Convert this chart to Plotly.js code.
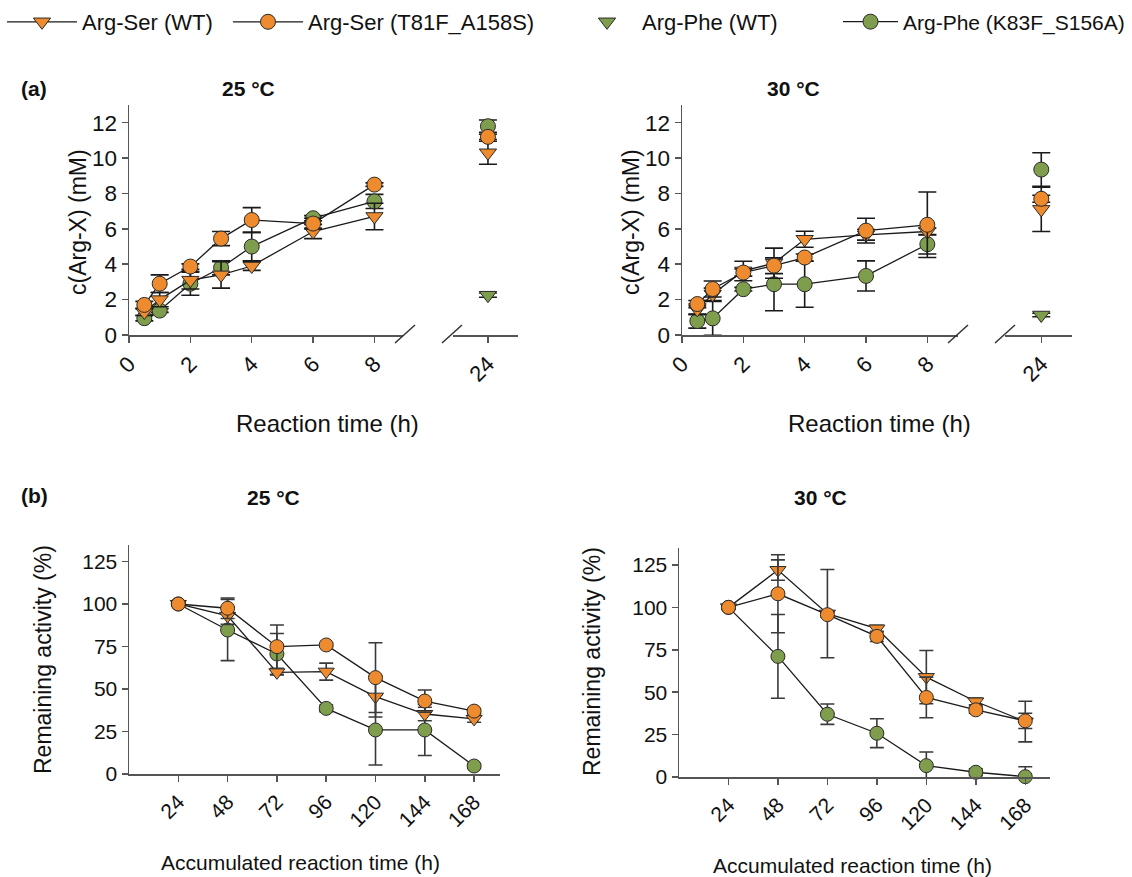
<!DOCTYPE html>
<html>
<head>
<meta charset="utf-8">
<script src="https://cdn.plot.ly/plotly-3.0.1.min.js"></script>
<style>html,body{margin:0;padding:0;background:#fff;}#chart{width:1132px;height:877px;}</style>
</head>
<body>
<div id="chart"></div>
<script>
// ---------- DATA ----------
const seriesNames = ["Arg-Ser (WT)", "Arg-Ser (T81F_A158S)", "Arg-Phe (WT)", "Arg-Phe (K83F_S156A)"];

// Panel (a): product concentration (mM) vs reaction time (h)
const timeA = [0.5, 1, 2, 3, 4, 6, 8, 24];
const a25_serWT      = [1.3, 2.0, 3.1, 3.4, 3.9, 5.85, 6.7, 10.3];
const a25_serWT_err  = [0.2, 0.4, 0.5, 0.75, 0.25, 0.4, 0.75, 0.65];
const a25_serMut     = [1.7, 2.9, 3.87, 5.45, 6.5, 6.3, 8.5, 11.2];
const a25_serMut_err = [0.2, 0.5, 0.15, 0.4, 0.7, 0.3, 0.1, 0.15];
const a25_pheWT      = [null, null, null, null, null, null, null, 2.25];
const a25_pheWT_err  = [0, 0, 0, 0, 0, 0, 0, 0.12];
const a25_pheMut     = [0.95, 1.38, 2.9, 3.8, 5.0, 6.6, 7.55, 11.8];
const a25_pheMut_err = [0.15, 0.1, 0.65, 0.4, 0.8, 0.15, 0.4, 0.35];

const a30_serWT      = [1.45, 2.3, 3.62, 4.06, 5.41, 5.66, 5.85, 7.1];
const a30_serWT_err  = [0.3, 0.35, 0.55, 0.85, 0.45, 0.3, 0.2, 1.25];
const a30_serMut     = [1.75, 2.6, 3.53, 3.92, 4.38, 5.9, 6.23, 7.7];
const a30_serMut_err = [0.2, 0.45, 0.2, 0.45, 0.2, 0.7, 1.85, 0.2];
const a30_pheWT      = [null, null, null, null, null, null, null, 1.13];
const a30_pheWT_err  = [0, 0, 0, 0, 0, 0, 0, 0.1];
const a30_pheMut     = [0.79, 0.94, 2.59, 2.87, 2.87, 3.34, 5.13, 9.35];
const a30_pheMut_err = [0.4, 0.95, 0.1, 1.5, 1.3, 0.85, 0.55, 0.95];

// Panel (b): remaining activity (%) vs accumulated reaction time (h)
const timeB = [24, 48, 72, 96, 120, 144, 168];
const b25_serWT      = [100, 93, 59.8, 60.2, 45.5, 35.3, 32.4];
const b25_serWT_err  = [1, 5, 1.5, 5, 12, 4, 2];
const b25_serMut     = [100, 97.5, 74.9, 75.9, 56.7, 42.9, 37];
const b25_serMut_err = [1, 6, 12.7, 1, 20.5, 6.5, 1.5];
const b25_pheMut     = [100, 84.7, 70.6, 38.6, 25.9, 25.9, 4.7];
const b25_pheMut_err = [1, 18, 12, 2, 20.6, 15, 1.5];

const b30_serWT      = [100, 122, 96.3, 87.5, 58.9, 44.5, 32.7];
const b30_serWT_err  = [1, 6, 26, 2, 15.7, 2, 12];
const b30_serMut     = [100, 108, 95.7, 82.9, 46.9, 39.6, 33.1];
const b30_serMut_err = [1, 23, 1.5, 3, 12, 2, 4.5];
const b30_pheMut     = [100, 71.1, 37, 25.8, 6.7, 2.8, 0.2];
const b30_pheMut_err = [1, 24.7, 6, 8.5, 8, 2, 5.8];

const tickValsA1 = [0, 2, 4, 6, 8];
const tickValsA2 = [24];

// ---------- STYLE ----------
const FONT = "Liberation Sans, Arial, sans-serif";
const ORANGE = "#EE8B2E";
const GREEN = "#7E9D4D";
const W = 1132, H = 877;
const px = v => v / W;
const py = v => 1 - v / H;

const styles = [
  {color: ORANGE, symbol: "triangle-down", mode: "lines+markers"},
  {color: ORANGE, symbol: "circle", mode: "lines+markers"},
  {color: GREEN, symbol: "triangle-down", mode: "markers"},
  {color: GREEN, symbol: "circle", mode: "lines+markers"}
];
const legendIds = ["legend", "legend2", "legend3", "legend4"];

function mk(si, xs, ys, errs, xa, ya, size, cap, showleg, ecol) {
  const st = styles[si];
  return {
    type: "scatter", mode: st.mode, x: xs, y: ys, xaxis: xa, yaxis: ya,
    name: seriesNames[si], legend: legendIds[si], showlegend: showleg,
    cliponaxis: false,
    line: {color: "#1a1a1a", width: 1.3},
    marker: {symbol: st.symbol, size: size, color: st.color, line: {color: "#2a2a2a", width: 1}},
    error_y: {type: "data", array: errs, visible: true, color: ecol || "#1a1a1a", thickness: 1.6, width: cap}
  };
}

function splitA(si, vals, errs, xa1, xa2, ya, leg) {
  const n = timeA.length;
  const out = [];
  const x1 = timeA.slice(0, n - 1), y1 = vals.slice(0, n - 1), e1 = errs.slice(0, n - 1);
  const hasEarly = y1.some(v => v !== null);
  if (hasEarly) out.push(mk(si, x1, y1, e1, xa1, ya, 15, 9, leg));
  out.push(mk(si, timeA.slice(n - 1), vals.slice(n - 1), errs.slice(n - 1), xa2, ya, 15, 9, leg && !hasEarly));
  return out;
}

let traces = [];
// 25 °C panel (a)
traces = traces.concat(splitA(3, a25_pheMut, a25_pheMut_err, "x", "x2", "y", true));
traces = traces.concat(splitA(0, a25_serWT, a25_serWT_err, "x", "x2", "y", true));
traces = traces.concat(splitA(1, a25_serMut, a25_serMut_err, "x", "x2", "y", true));
traces = traces.concat(splitA(2, a25_pheWT, a25_pheWT_err, "x", "x2", "y", true));
// 30 °C panel (a)
traces = traces.concat(splitA(3, a30_pheMut, a30_pheMut_err, "x3", "x4", "y2", false));
traces = traces.concat(splitA(0, a30_serWT, a30_serWT_err, "x3", "x4", "y2", false));
traces = traces.concat(splitA(1, a30_serMut, a30_serMut_err, "x3", "x4", "y2", false));
traces = traces.concat(splitA(2, a30_pheWT, a30_pheWT_err, "x3", "x4", "y2", false));
// panel (b)
const EB = "#3a3a3a";
traces.push(mk(3, timeB, b25_pheMut, b25_pheMut_err, "x5", "y3", 14, 7, false, EB));
traces.push(mk(0, timeB, b25_serWT, b25_serWT_err, "x5", "y3", 14, 7, false, EB));
traces.push(mk(1, timeB, b25_serMut, b25_serMut_err, "x5", "y3", 14, 7, false, EB));
traces.push(mk(3, timeB, b30_pheMut, b30_pheMut_err, "x6", "y4", 14, 7, false, EB));
traces.push(mk(0, timeB, b30_serWT, b30_serWT_err, "x6", "y4", 14, 7, false, EB));
traces.push(mk(1, timeB, b30_serMut, b30_serMut_err, "x6", "y4", 14, 7, false, EB));

const axCommon = {
  showline: true, linecolor: "#555", linewidth: 1.5, showgrid: false, zeroline: false,
  ticks: "outside", ticklen: 6, tickwidth: 1.5, tickcolor: "#555",
  fixedrange: true
};
function xa(domain, range, tickvals, anchor, fs) {
  return Object.assign({}, axCommon, {
    domain: domain, range: range, tickvals: tickvals, ticktext: tickvals.map(String),
    anchor: anchor, tickangle: -45, tickfont: {family: FONT, size: fs, color: "#111"}
  });
}
function ya(domain, range, tickvals, anchor, fs) {
  return Object.assign({}, axCommon, {
    domain: domain, range: range, tickvals: tickvals, anchor: anchor,
    tickfont: {family: FONT, size: fs, color: "#111"}
  });
}
const yTicksA = [0, 2, 4, 6, 8, 10, 12];
const yTicksB = [0, 25, 50, 75, 100, 125];

function ann(text, x, y, size, bold, angle) {
  return {text: bold ? "<b>" + text + "</b>" : text, xref: "paper", yref: "paper",
    x: px(x), y: py(y), xanchor: "center", yanchor: "middle", showarrow: false,
    textangle: angle || 0, font: {family: FONT, size: size, color: "#111"}};
}
function slash(x0, y0, x1, y1) {
  return {type: "line", xref: "paper", yref: "paper", x0: px(x0), y0: py(y0), x1: px(x1), y1: py(y1),
    line: {color: "#333", width: 1.5}};
}
function leg(x, iw, fs) {
  return {orientation: "h", x: px(x), y: py(22), xanchor: "left", yanchor: "middle",
    font: {family: FONT, size: fs, color: "#111"}, bgcolor: "rgba(0,0,0,0)", itemwidth: iw};
}

const layout = {
  width: W, height: H, margin: {l: 0, r: 0, t: 0, b: 0, autoexpand: false},
  paper_bgcolor: "#fff", plot_bgcolor: "#fff",
  font: {family: FONT, color: "#111"},
  xaxis:  xa([px(129), px(403)], [0, 8.93], tickValsA1, "y", 22),
  xaxis2: xa([px(453), px(518)], [22.86, 24.98], tickValsA2, "y", 22),
  yaxis:  ya([py(335), py(105)], [0, 13], yTicksA, "x", 22.5),
  xaxis3: xa([px(682), px(958)], [0, 9.0], tickValsA1, "y2", 22),
  xaxis4: xa([px(1005), px(1072)], [22.82, 25.0], tickValsA2, "y2", 22),
  yaxis2: ya([py(335), py(105)], [0, 13], yTicksA, "x3", 22.5),
  xaxis5: xa([px(129), px(500)], [0, 180.6], timeB, "y3", 21),
  yaxis3: ya([py(774), py(545)], [0, 134.7], yTicksB, "x5", 21),
  xaxis6: xa([px(679), px(1050)], [0, 180], timeB, "y4", 21),
  yaxis4: ya([py(777), py(548)], [0, 135], yTicksB, "x6", 21),
  legend: leg(2, 70, 22), legend2: leg(228, 70, 22), legend3: leg(572, 60, 22),
  legend4: leg(838, 55, 21),
  annotations: [
    ann("(a)", 34, 88, 21, true), ann("(b)", 34, 495, 21, true),
    ann("25 °C", 248, 88, 21, true), ann("30 °C", 793, 88, 21, true),
    ann("25 °C", 273, 497, 21, true), ann("30 °C", 820, 497, 21, true),
    ann("c(Arg-X) (mM)", 78, 222, 23, false, -90), ann("c(Arg-X) (mM)", 631, 222, 23, false, -90),
    ann("Reaction time (h)", 327, 423, 24, false), ann("Reaction time (h)", 879, 423, 24, false),
    ann("Remaining activity (%)", 43, 660, 23, false, -90), ann("Remaining activity (%)", 592, 662, 23, false, -90),
    ann("Accumulated reaction time (h)", 300, 862, 21, false), ann("Accumulated reaction time (h)", 852, 865, 21, false)
  ],
  shapes: [
    slash(395, 343, 415, 325), slash(442, 343, 462, 325),
    slash(948, 343, 968, 325), slash(995, 343, 1015, 325)
  ]
};

Plotly.newPlot("chart", traces, layout, {displayModeBar: false, staticPlot: true});
</script>
</body>
</html>
